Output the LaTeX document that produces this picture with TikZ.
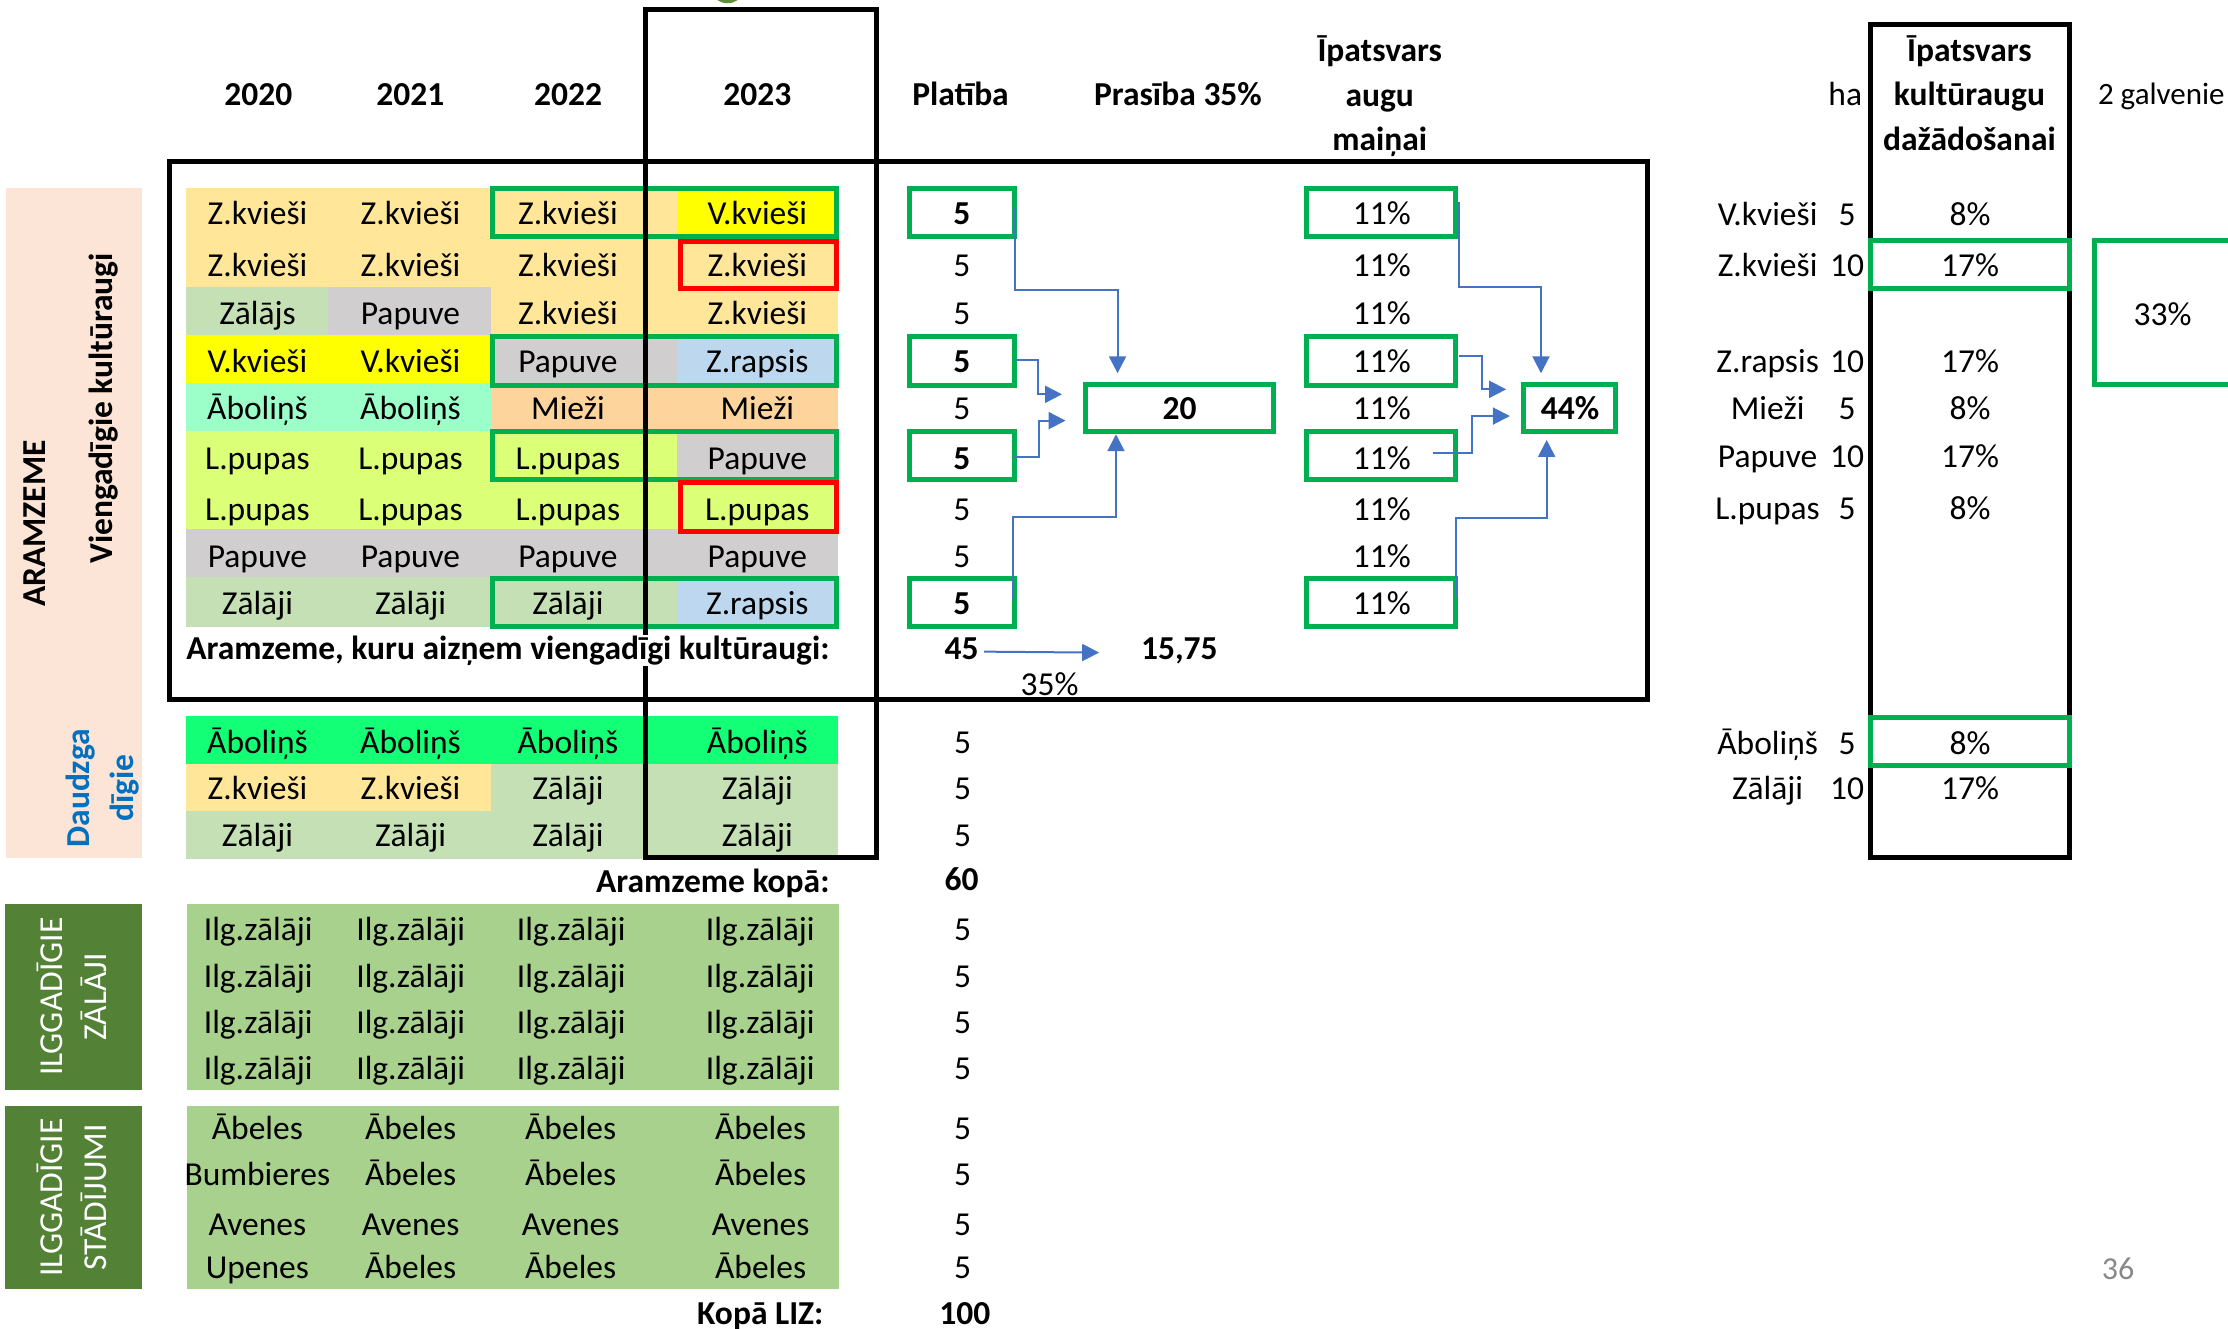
\documentclass[tikz,border=0pt]{standalone}
\usepackage{fontspec}
\setmainfont{Carlito}
\usetikzlibrary{arrows.meta,calc,fit}
\definecolor{zk}{HTML}{FFE699}
\definecolor{vk}{HTML}{FFFF00}
\definecolor{zl}{HTML}{C5E0B4}
\definecolor{pa}{HTML}{D0CECE}
\definecolor{ab}{HTML}{9CFFCA}
\definecolor{mi}{HTML}{FDD59C}
\definecolor{lp}{HTML}{DCFF78}
\definecolor{zr}{HTML}{BDD7EE}
\definecolor{abg}{HTML}{12FF76}
\definecolor{ilg}{HTML}{A9D18E}
\definecolor{lab}{HTML}{538135}
\definecolor{peach}{HTML}{FCE4D6}
\definecolor{gr}{HTML}{00B050}
\definecolor{rd}{HTML}{FF0000}
\definecolor{bl}{HTML}{4472C4}
\definecolor{dbl}{HTML}{0070C0}
\definecolor{pg}{HTML}{898989}
\definecolor{dotc}{HTML}{5B8F3A}
\newcommand\fs{\fontsize{33.5pt}{44.5pt}\selectfont}
\newcommand\bgc[5]{\filldraw[#5,line width=0.6pt] (#1,#2) rectangle (#3,#4);}
\begin{document}
\begin{tikzpicture}[x=1.420918pt,y=-1.420918pt,
  every node/.style={inner sep=0pt,outer sep=0pt,font=\fs},
  tx/.style={text height=21.6pt,text depth=0pt},
  bx/.style={font=\fs\bfseries},
  blk/.style={draw=black,line width=5pt},
  gbox/.style={draw=gr,line width=5pt,inner sep=0pt,outer sep=0pt},
  rbox/.style={draw=rd,line width=5pt},
  arr/.style={draw=bl,line width=2pt,-{Triangle[length=17pt,width=17pt]}},
  rot/.style={rotate=90,align=center}]
\useasboundingbox (0,0) rectangle (1568,935.3);

% green dot at top
\fill[dotc] (512,-9.7) circle (12);

% left labels
\fill[peach] (4.2,132.4) rectangle (99.7,604);
\fill[lab] (3.6,636) rectangle (100,767);
\fill[lab] (3.6,778.3) rectangle (100,907.3);

% grid backgrounds
\foreach \ya/\yb/\ca/\cb/\cc/\cd in {132.5/167/zk/zk/zk/vk, 167/202/zk/zk/zk/zk, 202/236/zl/pa/zk/zk, 236/270/vk/vk/pa/zr, 270/303.5/ab/ab/mi/mi, 303.5/338/lp/lp/lp/pa, 338/372.5/lp/lp/lp/lp, 372.5/406.5/pa/pa/pa/pa, 406.5/440.5/zl/zl/zl/zr, 504/538/abg/abg/abg/abg, 538/571/zk/zk/zl/zl, 571/604/zl/zl/zl/zl}
{
  \bgc{131.3}{\ya}{231.1}{\yb}{\ca}
  \bgc{231.1}{\ya}{345.6}{\yb}{\cb}
  \bgc{345.6}{\ya}{476.8}{\yb}{\cc}
  \bgc{476.8}{\ya}{589}{\yb}{\cd}
}
\fill[ilg] (131.4,636) rectangle (590.4,767);
\fill[ilg] (131.4,778.3) rectangle (590.4,907.3);

% green / red highlight boxes in grid
\draw[gbox] (346.8,132.5) rectangle (588.6,166.2);
\draw[gbox] (346.8,236.9) rectangle (588.6,271.2);
\draw[gbox] (346.8,303.8) rectangle (588.6,337.8);
\draw[gbox] (346.8,407.2) rectangle (588.6,441.2);
\draw[rbox] (478.7,169.8) rectangle (588.6,203.2);
\draw[rbox] (478.7,339.8) rectangle (588.6,373.7);

% boxes with connectors
\node[gbox,fit={(640,132.5)(714,166.2)}] (p1) {};
\node[gbox,fit={(640,236.9)(714,271)}] (p4) {};
\node[gbox,fit={(640,303.8)(714,337.8)}] (p6) {};
\node[gbox,fit={(640,407.2)(714,441.2)}] (p9) {};
\node[gbox,fit={(763.8,270.3)(895.9,303.8)}] (s20) {};
\node[gbox,fit={(919.3,132.5)(1024.4,166.2)}] (i1) {};
\node[gbox,fit={(919.3,236.9)(1024.4,271)}] (i4) {};
\node[gbox,fit={(919.3,303.8)(1024.4,337.8)}] (i6) {};
\node[gbox,fit={(919.3,407.2)(1024.4,441.2)}] (i9) {};
\node[gbox,fit={(1072.3,270.3)(1137,303.8)}] (s44) {};
\draw[gbox] (1473.7,169.4) rectangle (1580,270.7);

% black frames
\draw[blk] (454.6,6.5) rectangle (617,603.5);
\draw[blk] (119.5,114) rectangle (1159.2,492.5);
\draw[blk] (1316.2,17.4) rectangle (1456.2,603.3);
\draw[gbox] (1316.2,169.4) rectangle (1456.2,202.7);
\draw[gbox] (1316.2,504.7) rectangle (1456.2,538.4);

% headers
\node[tx,bx] (h20) at (181.8,66.8) {2020};
\node[tx,bx] (h21) at (288.8,66.8) {2021};
\node[tx,bx] (h22) at (399.8,66.8) {2022};
\node[tx,bx] (h23) at (533,66.8) {2023};
\node[tx,bx] (hpl) at (676,66.8) {Platība};
\node[tx,bx] (hpr) at (829,66.8) {Prasība 35\%};
\node[bx,align=center] (hip) at (971,67.7) {Īpatsvars\\augu\\maiņai};
\node[tx,anchor=east] (hha) at (1310.5,66.8) {ha};
\node[bx,align=center] (hik) at (1386,65.3) {Īpatsvars\\kultūraugu\\dažādošanai};
\node[anchor=west,font=\fontsize{31pt}{40pt}\selectfont,text height=20pt,text depth=0pt] (hgal) at (1476.5,66.8) {2 galvenie};

% rotated labels
\node[rot,bx] (aram) at (24.7,368.5) {ARAMZEME};
\node[rot,bx] (vieng) at (73.2,287.4) {Viengadīgie kultūraugi};
\node[rot,bx,text=dbl] (daudz) at (72.1,554.8) {Daudzga\\dīgie};
\node[rot,text=white] (ilgz) at (50.5,701.5) {ILGGADĪGIE\\ZĀLĀJI};
\node[rot,text=white] (ilgs) at (50.5,842.8) {ILGGADĪGIE\\STĀDĪJUMI};

% grid texts
\foreach \y/\a/\b/\c/\d [count=\i] in {150.7/Z.kvieši/Z.kvieši/Z.kvieši/V.kvieši, 187.1/Z.kvieši/Z.kvieši/Z.kvieši/Z.kvieši, 220.5/Zālājs/Papuve/Z.kvieši/Z.kvieši, 254.3/V.kvieši/V.kvieši/Papuve/Z.rapsis, 287.7/Āboliņš/Āboliņš/Mieži/Mieži, 322.5/L.pupas/L.pupas/L.pupas/Papuve, 358.9/L.pupas/L.pupas/L.pupas/L.pupas, 392/Papuve/Papuve/Papuve/Papuve, 425.2/Zālāji/Zālāji/Zālāji/Z.rapsis, 522.5/Āboliņš/Āboliņš/Āboliņš/Āboliņš, 555.4/Z.kvieši/Z.kvieši/Zālāji/Zālāji, 588.2/Zālāji/Zālāji/Zālāji/Zālāji}
{
  \node[tx] (ga\i) at (181.2,\y) {\a};
  \node[tx] (gb\i) at (288.9,\y) {\b};
  \node[tx] (gc\i) at (399.7,\y) {\c};
  \node[tx] (gd\i) at (533,\y) {\d};
}
\foreach \y [count=\i] in {654.5,687.3,720,751.8}
{
  \node[tx] (za\i) at (181.7,\y) {Ilg.zālāji};
  \node[tx] (zb\i) at (289,\y) {Ilg.zālāji};
  \node[tx] (zc\i) at (402,\y) {Ilg.zālāji};
  \node[tx] (zd\i) at (535,\y) {Ilg.zālāji};
}
\node[tx] (sa1) at (181.1,794) {Ābeles};
\node[tx] (sb1) at (289,794) {Ābeles};
\node[tx] (sc1) at (401.6,794) {Ābeles};
\node[tx] (sd1) at (535.3,794) {Ābeles};
\begin{scope}
\clip (120,805) rectangle (231.1,850);
\node[tx] (sa2) at (181.1,827) {Bumbieres};
\end{scope}
\node[tx] (sb2) at (289,827) {Ābeles};
\node[tx] (sc2) at (401.6,827) {Ābeles};
\node[tx] (sd2) at (535.3,827) {Ābeles};
\node[tx] (sa3) at (181.1,862) {Avenes};
\node[tx] (sb3) at (289,862) {Avenes};
\node[tx] (sc3) at (401.6,862) {Avenes};
\node[tx] (sd3) at (535.3,862) {Avenes};
\node[tx] (sa4) at (181.1,892.5) {Upenes};
\node[tx] (sb4) at (289,892.5) {Ābeles};
\node[tx] (sc4) at (401.6,892.5) {Ābeles};
\node[tx] (sd4) at (535.3,892.5) {Ābeles};

% Platiba column
\node[tx,bx] (v1) at (677,150.7) {5};
\node[tx] (v2) at (677,187.1) {5};
\node[tx] (v3) at (677,220.5) {5};
\node[tx,bx] (v4) at (677,254.3) {5};
\node[tx] (v5) at (677,287.7) {5};
\node[tx,bx] (v6) at (677,322.5) {5};
\node[tx] (v7) at (677,358.9) {5};
\node[tx] (v8) at (677,392) {5};
\node[tx,bx] (v9) at (677,425.2) {5};
\foreach \y [count=\i] in {522.5,555.4,588.2,654.5,687.3,720,751.8,794,827,862,892.5}
  \node[tx] (w\i) at (677.5,\y) {5};
\node[tx,bx] (n20) at (830.2,287.7) {20};
\node[tx,bx] (n44) at (1105,287.7) {44\%};
\foreach \y [count=\i] in {150.7,187.1,220.5,254.3,287.7,322.5,358.9,392,425.2}
  \node[tx] (q\i) at (972.5,\y) {11\%};

\node[tx,bx] (n45) at (676.8,456.3) {45};
\node[tx,bx] (n1575) at (830,456.3) {15,75};
\node[tx] (n35) at (738.6,482) {35\%};
\node[tx,bx,anchor=east] (akop) at (583.8,620.5) {Aramzeme kopā:};
\node[tx,bx] (n60) at (676.8,619.3) {60};
\node[tx,bx,anchor=east] (liz) at (579.5,924.3) {Kopā LIZ:};
\node[tx,bx] (n100) at (679,924.3) {100};

% right table
\foreach \y/\n/\h/\p [count=\i] in {151/V.kvieši/5/8, 187.1/Z.kvieši/10/17, 254.5/Z.rapsis/10/17, 287.7/Mieži/5/8, 321.6/Papuve/10/17, 357.7/L.pupas/5/8, 523.1/Āboliņš/5/8, 555.1/Zālāji/10/17}
{
  \node[tx] (rn\i) at (1244,\y) {\n};
  \node[tx] (rh\i) at (1300,\y) {\h};
  \node[tx] (rp\i) at (1386.4,\y) {\p\%};
}
\node[tx] (n33) at (1522,221.7) {33\%};

% connectors
\draw[arr] ($(p1.north east)+(0,12.9)$) -- ++(0,58.6) -| ($(s20.north west)+(22.7,-7.6)$);
\draw[arr] ($(p4.north east)+(0,16.4)$) -- ++(16.7,0) |- ($(s20.north west)+(-16.4,7.2)$);
\draw[arr] ($(p6.north east)+(-1.3,18)$) -- ++(18.7,0) |- ($(s20.north west)+(-13.9,25.7)$);
\draw[arr] ($(p9.north east)+(-1.3,15)$) -- ++(0,-58.1) -| ($(s20.south west)+(21.6,1.8)$);
\draw[arr] ($(i1.north east)+(2.5,9.4)$) -- ++(0,60.3) -| ($(s44.north west)+(12.2,-7.6)$);
\draw[arr] ($(i4.north east)+(2.5,13.6)$) -- ++(15.9,0) |- ($(s44.north west)+(-12.3,3.7)$);
\draw[arr] ($(i6.north east)+(-15.8,14.8)$) -- ++(27,0) |- ($(s44.north west)+(-9.7,22.5)$);
\draw[arr] ($(i9.north east)+(0.4,12.7)$) -- ++(0,-55.1) -| ($(s44.south west)+(16.2,5.8)$);
\draw[arr] ($(n45.east)+(3.8,2.3)$) -- ($(n1575.west)+(-29.5,3)$);

% label over the frame line
\node[bx,anchor=base east,fill=white,inner ysep=1pt] (aramv) at (583.8,463.9) {Aramzeme, kuru aizņem viengadīgi kultūraugi:};

% page number
\node[text=pg,font=\fontsize{32pt}{38pt}\selectfont] (pnum) at (1490.6,893.2) {36};
\end{tikzpicture}
\end{document}
